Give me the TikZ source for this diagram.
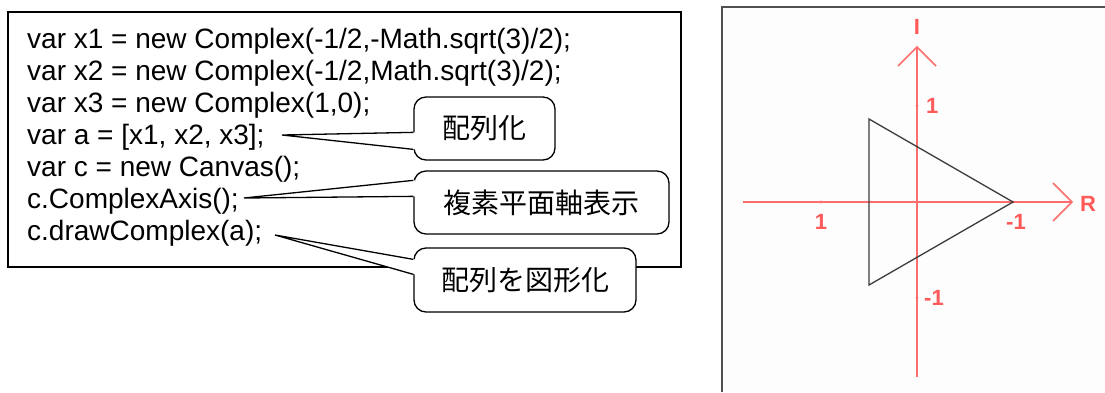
\documentclass[tikz,border=0pt]{standalone}
\usepackage{fontspec}
\setmainfont{Liberation Sans}
\newfontfamily\jpfont{Noto Sans CJK JP}
\definecolor{axred}{RGB}{255,110,110}
\definecolor{lblred}{RGB}{255,90,90}
\definecolor{trigray}{RGB}{60,60,60}
\definecolor{panelbg}{RGB}{253,253,253}
\definecolor{panelborder}{RGB}{80,80,80}
\begin{document}
\begin{tikzpicture}[x=1bp,y=-1bp,
  codeline/.style={anchor=base west, inner sep=0pt, font=\fontsize{28bp}{32bp}\selectfont},
  callout/.style={draw, line width=1.3bp, fill=white, rounded corners=12bp, inner sep=0pt,
    font=\jpfont\fontsize{28bp}{32bp}\selectfont},
  ptr/.style={line width=1.3bp, line join=miter},
  axisline/.style={draw=axred, line width=1.6bp},
  axlbl/.style={text=lblred, inner sep=0pt, font=\bfseries\fontsize{22bp}{24bp}\selectfont},
  tick/.style={fill=axred, circle, inner sep=0pt, minimum size=3.4bp},
  tri/.style={draw=trigray, line width=1.3bp, line join=miter}]
\useasboundingbox (0,0) rectangle (1105,392);

% ---------- code box ----------
\node[draw, line width=1.5bp, anchor=north west, inner sep=0pt,
      minimum width=673bp, minimum height=255bp] (codebox) at (7,11) {};

% ---------- callouts ----------
\node[callout, minimum width=141bp, minimum height=63bp] (c1) at (484.5,128.5) {配列化};
\node[callout, minimum width=255bp, minimum height=63bp] (c2) at (541.5,202.5) {複素平面軸表示};
\node[callout, minimum width=222bp, minimum height=64bp] (c3) at (525,280) {配列を図形化};

\coordinate (t1) at (282,135);
\coordinate (t2) at (244,198);
\coordinate (t3) at (275,235);

\coordinate (c1a) at ([yshift=-36bp]c1.north west);
\coordinate (c1b) at ([yshift=-53bp]c1.north west);
\coordinate (c2a) at ([yshift=-10bp]c2.north west);
\coordinate (c2b) at ([yshift=-26bp]c2.north west);
\coordinate (c3a) at ([yshift=-12bp]c3.north west);
\coordinate (c3b) at ([yshift=-27bp]c3.north west);

\fill[white] ([xshift=1.5bp]c1a) -- (t1) -- ([xshift=1.5bp]c1b) -- cycle;
\fill[white] ([xshift=1.5bp]c2a) -- (t2) -- ([xshift=1.5bp]c2b) -- cycle;
\fill[white] ([xshift=1.5bp]c3a) -- (t3) -- ([xshift=1.5bp]c3b) -- cycle;

\draw[ptr] (c1a) -- (t1) -- (c1b);
\draw[ptr] (c2a) -- (t2) -- (c2b);
\draw[ptr] (c3a) -- (t3) -- (c3b);

% ---------- code lines ----------
\node[codeline] (l1) at (27,48)  {var x1 = new Complex(-1/2,-Math.sqrt(3)/2);};
\node[codeline] (l2) at (27,80)  {var x2 = new Complex(-1/2,Math.sqrt(3)/2);};
\node[codeline] (l3) at (27,112) {var x3 = new Complex(1,0);};
\node[codeline] (l4) at (27,144) {var a = [x1, x2, x3];};
\node[codeline] (l5) at (27,176) {var c = new Canvas();};
\node[codeline] (l6) at (27,208) {c.ComplexAxis();};
\node[codeline] (l7) at (27,240) {c.drawComplex(a);};

% ---------- complex plane panel ----------
\fill[panelbg] (722,7) rectangle (1105,392);
\draw[line width=1.5bp, draw=panelborder] (722,392) -- (722,7) -- (1105,7);

\coordinate (O) at (917,202);
\draw[axisline] (743,202) -- (1072,202);
\draw[axisline] (1053,183) -- (1072,202) -- (1053,221);
\draw[axisline] (917,377) -- (917,47);
\draw[axisline] (898,66) -- (917,47) -- (936,66);

\node[tick] at (821,202) {};
\node[tick] at (917,106) {};
\node[tick] at (917,298) {};
\node[tick] at (1013,202) {};

\node[axlbl] (lI) at (917,27) {I};
\node[axlbl, anchor=west] (lR) at (1080,204) {R};
\node[axlbl] (lx1) at (821,222) {1};
\node[axlbl, anchor=west] (ly1) at (926,106) {1};
\node[axlbl, anchor=west] (lym1) at (924,298) {-1};
\node[axlbl] (lxm1) at (1016,222) {-1};

\draw[tri] (869,119) -- (869,285) -- (1013,202) -- cycle;
\end{tikzpicture}
\end{document}
